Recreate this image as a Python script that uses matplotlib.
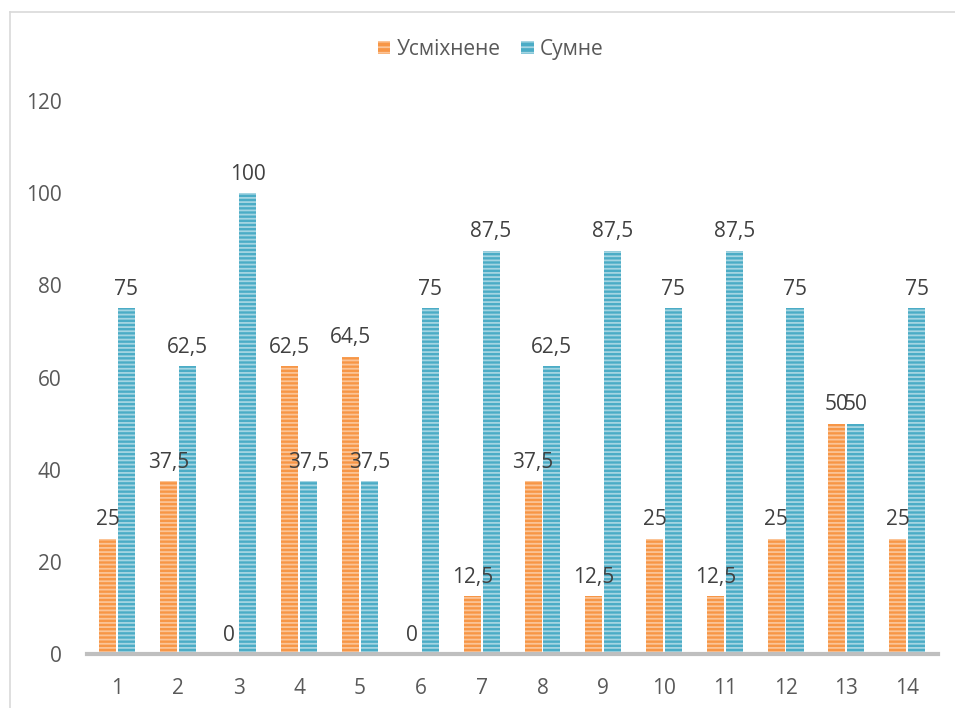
import matplotlib.pyplot as plt
import matplotlib.lines as mlines
from matplotlib.patches import Patch
import numpy as np

plt.rcParams['font.family'] = ['Open Sans', 'DejaVu Sans']
plt.rcParams['hatch.linewidth'] = 1.3

cats = ['1', '2', '3', '4', '5', '6', '7', '8', '9', '10', '11', '12', '13', '14']
smile = [25, 37.5, 0, 62.5, 64.5, 0, 12.5, 37.5, 12.5, 25, 12.5, 25, 50, 25]
sad = [75, 62.5, 100, 37.5, 37.5, 75, 87.5, 62.5, 87.5, 75, 87.5, 75, 50, 75]
smile_lbl = ['25', '37,5', '0', '62,5', '64,5', '0', '12,5', '37,5', '12,5', '25', '12,5', '25', '50', '25']
sad_lbl = ['75', '62,5', '100', '37,5', '37,5', '75', '87,5', '62,5', '87,5', '75', '87,5', '75', '50', '75']

orange = '#F79646'
orange_l = '#FBC497'
blue = '#4BACC6'
blue_l = '#A5D5E2'
txt = '#595959'

fig = plt.figure(figsize=(9.55, 7.08), dpi=100)
ax = fig.add_axes([0.0907, 0.0763, 0.891, 0.781])

x = np.arange(len(cats))
w = 0.28
b1 = ax.bar(x - 0.155, smile, w, color=orange, edgecolor=orange_l, linewidth=0, hatch='----')
b2 = ax.bar(x + 0.155, sad, w, color=blue, edgecolor=blue_l, linewidth=0, hatch='----')

for bars, labels in ((b1, smile_lbl), (b2, sad_lbl)):
    for r, l in zip(bars, labels):
        ax.annotate(l, (r.get_x() + r.get_width() / 2, r.get_height()),
                    xytext=(0, 6), textcoords='offset points',
                    ha='center', va='bottom', fontsize=15, color='#404040')

ax.set_xlim(-0.5, len(cats) - 0.5)
ax.set_ylim(0, 120)
ax.set_yticks(range(0, 121, 20))
ax.set_xticks(x)
ax.set_xticklabels(cats)
ax.tick_params(axis='both', length=0, labelsize=15, colors=txt)
ax.tick_params(axis='y', pad=18)
ax.tick_params(axis='x', pad=17)
for s in ['top', 'right', 'left']:
    ax.spines[s].set_visible(False)
ax.spines['bottom'].set_color('#BFBFBF')
ax.spines['bottom'].set_linewidth(3)

handles = [Patch(facecolor=orange, edgecolor=orange_l, linewidth=0, hatch='---'),
           Patch(facecolor=blue, edgecolor=blue_l, linewidth=0, hatch='---')]
fig.legend(handles, ['Усміхнене', 'Сумне'], loc='center', bbox_to_anchor=(0.514, 0.930),
           ncol=2, frameon=False, fontsize=15, labelcolor=txt,
           handlelength=0.6, handleheight=0.6, handletextpad=0.3, columnspacing=1.0)

# chart area border
bx = 10 / 955
by = 1 - 12 / 708
fig.add_artist(mlines.Line2D([bx, bx], [0, by], color='#D9D9D9', lw=1.2, transform=fig.transFigure))
fig.add_artist(mlines.Line2D([bx, 1], [by, by], color='#D9D9D9', lw=1.2, transform=fig.transFigure))

fig.savefig('out.png', dpi=100)
